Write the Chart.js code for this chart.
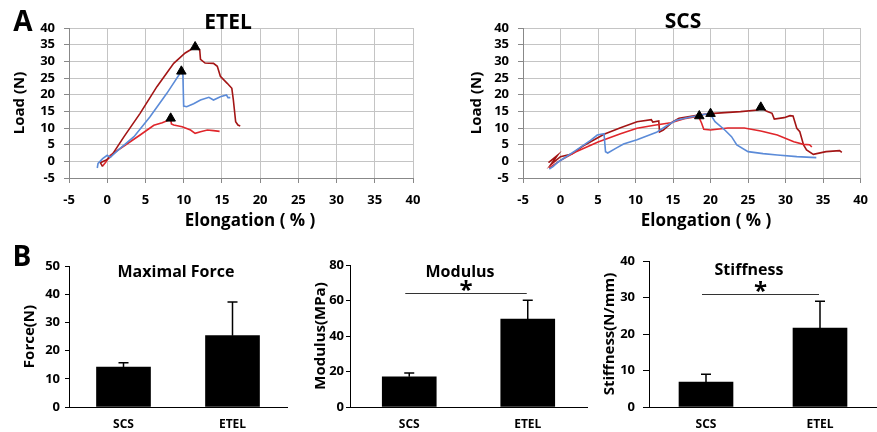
<!DOCTYPE html>
<html>
<head>
<meta charset="utf-8">
<script src="https://cdn.jsdelivr.net/npm/chart.js@4.4.1/dist/chart.umd.min.js"></script>
<style>
body{margin:0;background:#fff;width:877px;height:432px;position:relative;overflow:hidden;font-family:"Open Sans",sans-serif;}
canvas{position:absolute;}
.t{position:absolute;font-weight:bold;color:#000;white-space:nowrap;transform:translate(-50%,-50%);line-height:1;}
</style>
</head>
<body>
<canvas id="etel" width="440" height="210" style="left:0;top:0"></canvas>
<canvas id="scs" width="437" height="210" style="left:440px;top:0"></canvas>
<canvas id="force" width="300" height="192" style="left:0;top:240px"></canvas>
<canvas id="modulus" width="290" height="192" style="left:300px;top:240px"></canvas>
<canvas id="stiff" width="287" height="192" style="left:590px;top:240px"></canvas>

<div class="t" style="left:23px;top:20px;font-size:28px">A</div>
<div class="t" style="left:228px;top:21px;font-size:21px">ETEL</div>
<div class="t" style="left:683px;top:20px;font-size:21px">SCS</div>
<div class="t" style="left:250px;top:219px;font-size:17px">Elongation ( % )</div>
<div class="t" style="left:706px;top:219px;font-size:17px">Elongation ( % )</div>
<div class="t" style="left:22px;top:255px;font-size:28px">B</div>
<div class="t" style="left:176px;top:271px;font-size:16px">Maximal Force</div>
<div class="t" style="left:460px;top:271px;font-size:16px">Modulus</div>
<div class="t" style="left:749px;top:269px;font-size:16px">Stiffness</div>

<script>
// --- Panel A: load vs elongation, points are [elongation %, load N] ---
const etelBlue = [[-1.3,-2.0],[-1.2,-0.6],[-0.6,0.8],[0,1.8],[0.4,1.2],[1.5,3.5],[3.5,7.4],[5.6,13.4],[7.8,20.4],[9.7,27.0],[9.9,25.8],[10.0,16.6],[10.4,16.4],[11.3,17.3],[12.2,18.4],[13.3,19.2],[13.9,18.4],[14.8,19.4],[15.6,19.9],[15.8,19.1],[16.1,19.1]];
const etelDark = [[-0.6,-1.6],[-0.9,-0.4],[-0.2,0.3],[0.5,1.5],[2.2,7.4],[4.3,14.4],[6.5,22.4],[8.7,29.4],[10.2,32.5],[11.5,34.3],[12.1,33.4],[12.2,30.6],[12.8,29.5],[13.9,29.4],[14.4,28.5],[14.8,25.5],[15.7,23.4],[16.3,21.9],[16.5,18.4],[16.8,11.9],[17.1,10.9],[17.4,10.6]];
const etelRed = [[-0.6,-1.4],[-0.2,-0.3],[0.4,1.8],[2,4.3],[4.3,7.9],[6.1,10.8],[7.2,11.6],[8.3,12.6],[8.4,11.2],[8.7,10.9],[9.8,10.4],[10.9,9.4],[11.5,8.4],[12.2,8.9],[13.1,9.4],[13.9,9.2],[14.7,9.0]];
const etelPeaks = [[11.5,34.3],[9.7,27.0],[8.3,12.9]];

const scsBlue = [[-1.5,-2.3],[-1.0,-1.6],[-0.3,-0.2],[0.5,1.0],[2,3.2],[4,6.3],[4.9,7.9],[5.8,8.3],[6.0,2.9],[6.3,2.5],[7.3,3.8],[8.4,5.2],[10.2,6.5],[11.5,7.6],[12.8,8.7],[14.1,10.6],[15.4,12.3],[17.2,13.2],[18.9,14.0],[19.9,14.4],[20.6,11.9],[21.9,9.4],[22.8,7.4],[23.5,4.9],[25,2.9],[27,2.3],[28.9,1.9],[31.5,1.4],[34.1,1.1]];
const scsDark = [[-1.6,-0.4],[-0.4,1.8],[-1.3,-1.0],[0,1.4],[1.5,2.2],[3,4.6],[5.8,8.1],[8,10.1],[10.2,11.9],[12.1,12.5],[12.3,11.8],[13.1,12.1],[13.2,8.8],[13.7,9.4],[14.5,10.9],[15,11.9],[15.8,12.9],[18.4,13.9],[20,14.3],[21.9,14.6],[24,14.9],[26.3,15.4],[26.7,16.2],[27.5,15.0],[28.2,14.4],[28.5,12.7],[29.8,13.1],[30.6,13.7],[31.0,13.6],[31.5,9.9],[31.9,8.9],[32.4,4.9],[32.8,3.4],[33.7,2.1],[35.4,2.9],[37.2,3.2],[37.5,2.7]];
const scsRed = [[-1.5,-2.0],[-1.0,-1.2],[0,0.3],[2,2.8],[5,5.8],[8,8.3],[10.2,9.9],[12.5,10.8],[14.7,11.6],[16.5,12.8],[18.4,13.5],[18.8,11.5],[19.1,9.6],[20,9.4],[22.3,10.0],[24.5,10.0],[26.7,9.1],[28.9,7.9],[31.1,5.9],[32.4,5.1],[33.2,5.0],[33.5,4.3]];
const scsPeaks = [[18.5,13.6],[20.0,14.3],[26.7,16.2]];

// --- Panel B: mean and SD per group ---
const groups = ['SCS', 'ETEL'];
const forceMean = [14.2, 25.3];
const forceSd = [1.5, 11.9];
const modulusMean = [17.0, 49.6];
const modulusSd = [2.2, 10.6];
const stiffMean = [6.8, 21.6];
const stiffSd = [2.2, 7.4];
const modulusSig = [64];   // bracket level
const stiffSig = [31];

const BLUE = '#5b8bd8', DARK = '#a31515', RED = '#e0262b';
const GRID = '#c4c4c4';
const tickFont = {family:'Open Sans', size:13, weight:'bold'};
const titleFont = {family:'Open Sans', size:15, weight:'bold'};
const pts = a => a.map(p => ({x:p[0], y:p[1]}));

function loadChart(id, curves, peaks, axisW, titlePad, rightPad){
  const ds = [{data:pts(peaks), pointStyle:'triangle', pointRadius:5.5, backgroundColor:'#000', borderColor:'#000', showLine:false}];
  curves.forEach(c => ds.push({data:pts(c[0]), borderColor:c[1], borderWidth:1.6, pointRadius:0, showLine:true, tension:0}));
  new Chart(document.getElementById(id), {
    type:'scatter',
    data:{datasets:ds},
    options:{
      responsive:false, animation:false, events:[],
      plugins:{legend:{display:false}, tooltip:{enabled:false}},
      layout:{padding:{left:0, top:28, right:rightPad, bottom:0}},
      scales:{
        x:{type:'linear', min:-5, max:40,
           ticks:{stepSize:5, color:'#000', font:tickFont, padding:9, maxRotation:0, autoSkip:false},
           grid:{display:true, drawOnChartArea:true, color:GRID, lineWidth:1, tickColor:'#888', tickLength:5},
           border:{color:'#888'},
           afterFit(s){ s.height = 32; }},
        y:{type:'linear', min:-5, max:40,
           ticks:{stepSize:5, color:'#000', font:tickFont, padding:9, autoSkip:false},
           grid:{display:true, drawOnChartArea:true, color:GRID, lineWidth:1, tickColor:'#888', tickLength:5},
           border:{color:'#888'},
           title:{display:true, text:'Load (N)', color:'#000', font:titleFont, padding:{top:titlePad, bottom:0}},
           afterFit(s){ s.width = axisW; }}
      }
    }
  });
}

// error bars (upper half only) and the significance bracket with its star
const errorBars = {
  id:'errorBars',
  afterDatasetsDraw(chart, args, o){
    const {ctx, scales:{x, y}} = chart;
    ctx.save();
    ctx.strokeStyle = '#000';
    ctx.lineWidth = 1.5;
    o.means.forEach((m, i) => {
      const px = x.getPixelForValue(i);
      const y0 = y.getPixelForValue(m), y1 = y.getPixelForValue(m + o.sds[i]);
      ctx.beginPath();
      ctx.moveTo(px, y0); ctx.lineTo(px, y1);
      ctx.moveTo(px - 5, y1); ctx.lineTo(px + 5, y1);
      ctx.stroke();
    });
    if(o.sig){
      const yy = Math.round(y.getPixelForValue(o.sig[0])) + 0.5;
      const xa = x.getPixelForValue(0) - 4, xb = x.getPixelForValue(1) - 1;
      ctx.lineWidth = 1;
      ctx.strokeStyle = '#333';
      ctx.beginPath(); ctx.moveTo(xa, yy); ctx.lineTo(xb, yy); ctx.stroke();
      ctx.fillStyle = '#000';
      ctx.font = 'bold 24px "Open Sans"';
      ctx.textAlign = 'center';
      ctx.textBaseline = 'alphabetic';
      ctx.fillText('*', (xa + xb) / 2, yy + 4);
    }
    ctx.restore();
  }
};

function barChart(id, means, sds, sig, yMax, yStep, yTitle, axisW, titlePad, tickPad, tickLen, top, rightPad){
  new Chart(document.getElementById(id), {
    type:'bar',
    data:{labels:groups, datasets:[{data:means, backgroundColor:'#000', borderWidth:0, barThickness:54}]},
    plugins:[errorBars],
    options:{
      responsive:false, animation:false, events:[],
      plugins:{legend:{display:false}, tooltip:{enabled:false}, errorBars:{means, sds, sig}},
      layout:{padding:{left:0, top:top, right:rightPad, bottom:0}},
      scales:{
        x:{ticks:{color:'#000', font:{family:'Open Sans', size:12, weight:'bold'}, padding:10, maxRotation:0},
           grid:{display:false, drawTicks:false},
           border:{color:'#000', width:1},
           afterFit(s){ s.height = 25; }},
        y:{min:0, max:yMax,
           ticks:{stepSize:yStep, color:'#000', font:tickFont, padding:tickPad, autoSkip:false},
           grid:{drawOnChartArea:false, color:'#000', tickLength:tickLen},
           border:{color:'#000', width:1},
           title:{display:true, text:yTitle, color:'#000', font:titleFont, padding:{top:titlePad, bottom:0}},
           afterFit(s){ s.width = axisW; }}
      }
    }
  });
}

loadChart('etel', [[etelBlue, BLUE], [etelDark, DARK], [etelRed, RED]], etelPeaks, 69, 11, 27);
loadChart('scs', [[scsBlue, BLUE], [scsRed, RED], [scsDark, DARK]], scsPeaks, 83, 28, 8);

barChart('force', forceMean, forceSd, null, 50, 10, 'Force(N)', 69, 21, 5, 4, 26, 13);
barChart('modulus', modulusMean, modulusSd, modulusSig, 80, 20, 'Modulus(MPa)', 50, 12, 2, 4, 25, 3);
barChart('stiff', stiffMean, stiffSd, stiffSig, 40, 10, 'Stiffness(N/mm)', 59, 11, 8, 6, 21, 0);
</script>
</body>
</html>
